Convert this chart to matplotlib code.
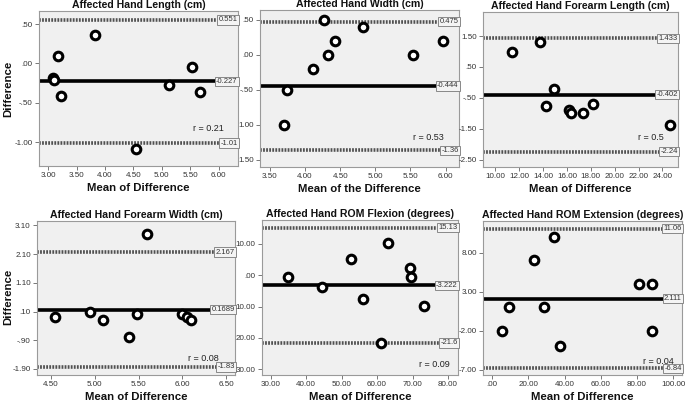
import matplotlib
matplotlib.use('Agg')
import matplotlib.pyplot as plt
import matplotlib.transforms as mtransforms

plt.rcParams['font.family'] = ['Liberation Sans', 'DejaVu Sans']
plt.rcParams['axes.unicode_minus'] = False

W, H = 685, 405

# ---------------- data ----------------
titles = ["Affected Hand Length (cm)", "Affected Hand Width (cm)",
          "Affected Hand Forearm Length (cm)", "Affected Hand Forearm Width (cm)",
          "Affected Hand ROM Flexion (degrees)", "Affected Hand ROM Extension (degrees)"]
xlabels = ["Mean of Difference", "Mean of the Difference", "Mean of Difference",
           "Mean of Difference", "Mean of Difference", "Mean of Difference"]
ylabel = "Difference"

p1_x = [3.08, 3.10, 3.17, 3.22, 3.82, 4.55, 5.13, 5.53, 5.68]
p1_y = [-0.18, -0.21, 0.10, -0.41, 0.36, -1.09, -0.27, -0.05, -0.36]
p2_x = [3.70, 3.75, 4.12, 4.27, 4.32, 4.42, 4.82, 5.54, 5.96]
p2_y = [-1.00, -0.50, -0.20, 0.50, 0.00, 0.20, 0.40, 0.00, 0.20]
p3_x = [11.4, 13.7, 14.2, 14.9, 16.2, 16.3, 17.3, 18.2, 24.6]
p3_y = [1.00, 1.30, -0.75, -0.20, -0.89, -1.00, -1.00, -0.69, -1.38]
p4_x = [4.55, 4.94, 5.09, 5.39, 5.48, 5.60, 5.99, 6.05, 6.10]
p4_y = [-0.10, 0.10, -0.19, -0.78, 0.02, 2.79, 0.00, -0.08, -0.19]
p5_x = [34.9, 44.4, 52.6, 56.1, 63.2, 69.2, 69.6, 61.2, 73.1]
p5_y = [-0.7, -3.6, 5.3, -7.7, 10.2, 2.2, -0.7, -21.6, -9.7]
p6_x = [5.7, 9.2, 23.2, 28.7, 34.3, 37.6, 81.0, 88.0, 88.4]
p6_y = [-2.0, 1.0, 7.0, 1.0, 10.0, -4.0, 4.0, 4.0, -2.0]

upper = [0.551, 0.475, 1.433, 2.167, 15.13, 11.06]
mean = [-0.227, -0.444, -0.402, 0.1689, -3.222, 2.111]
lower = [-1.01, -1.36, -2.24, -1.83, -21.6, -6.84]
upper_lbl = ["0.551", "0.475", "1.433", "2.167", "15.13", "11.06"]
mean_lbl = ["-0.227", "-0.444", "-0.402", "0.1689", "-3.222", "2.111"]
lower_lbl = ["-1.01", "-1.36", "-2.24", "-1.83", "-21.6", "-6.84"]
r_lbl = ["r = 0.21", "r = 0.53", "r = 0.5", "r = 0.08", "r = 0.09", "r = 0.04"]

yticks = [[0.5, 0.0, -0.5, -1.0], [0.5, 0.0, -0.5, -1.0, -1.5],
          [1.5, 0.5, -0.5, -1.5, -2.5], [3.1, 2.1, 1.1, 0.1, -0.9, -1.9],
          [10, 0, -10, -20, -30], [8, 3, -2, -7]]
ytick_lbl = [[".50", ".00", "-.50", "-1.00"], [".50", ".00", "-.50", "1.00", "1.50"],
             ["1.50", ".50", "-.50", "-1.50", "-2.50"],
             ["3.10", "2.10", "1.10", ".10", "-.90", "-1.90"],
             ["10.00", ".00", "10.00", "20.00", "30.00"],
             ["8.00", "3.00", "-2.00", "-7.00"]]
xticks = [[3.0, 3.5, 4.0, 4.5, 5.0, 5.5, 6.0], [3.5, 4.0, 4.5, 5.0, 5.5, 6.0],
          [10, 12, 14, 16, 18, 20, 22, 24], [4.5, 5.0, 5.5, 6.0, 6.5],
          [30, 40, 50, 60, 70, 80], [0, 20, 40, 60, 80, 100]]
xtick_lbl = [["3.00", "3.50", "4.00", "4.50", "5.00", "5.50", "6.00"],
             ["3.50", "4.00", "4.50", "5.00", "5.50", "6.00"],
             ["10.00", "12.00", "14.00", "16.00", "18.00", "20.00", "22.00", "24.00"],
             ["4.50", "5.00", "5.50", "6.00", "6.50"],
             ["30.00", "40.00", "50.00", "60.00", "70.00", "80.00"],
             [".00", "20.00", "40.00", "60.00", "80.00", "100.00"]]

xs = [p1_x, p2_x, p3_x, p4_x, p5_x, p6_x]
ys = [p1_y, p2_y, p3_y, p4_y, p5_y, p6_y]

# ---------------- layout ----------------
boxes = [(39, 238, 11, 166), (260, 459, 10, 167), (483, 678, 12, 167),
         (37, 235, 221, 375), (262, 458, 220, 375), (483, 682, 221, 375)]
xlims = [(2.84, 6.34), (3.36, 6.19), (8.96, 25.3), (4.34, 6.6), (27.6, 82.8), (-5, 104.8)]
ylims = [(-1.30, 0.665), (-1.60, 0.64), (-2.74, 2.28), (-2.11, 3.25), (-31.8, 17.6), (-7.7, 12.06)]
r_pos = [(0.85, 0.24), (0.845, 0.19), (0.86, 0.19), (0.84, 0.11), (0.88, 0.065), (0.88, 0.09)]
ylabel_pos = [(8, 89), (8, 297)]

fig = plt.figure(figsize=(W / 100, H / 100), dpi=100)
fig.patch.set_facecolor('white')

for i in range(6):
    l, r, t, b = boxes[i]
    ax = fig.add_axes([l / W, (H - b) / H, (r - l) / W, (b - t) / H])
    ax.set_facecolor('#f0f0f0')
    for s in ax.spines.values():
        s.set_color('#9a9a9a')
        s.set_linewidth(0.8)
    ax.set_xlim(*xlims[i])
    ax.set_ylim(*ylims[i])

    ax.axhline(upper[i], color='#505050', lw=2.6, ls=(0, (0.5, 0.35)), zorder=2)
    ax.axhline(lower[i], color='#505050', lw=2.6, ls=(0, (0.5, 0.35)), zorder=2)
    ax.axhline(mean[i], color='black', lw=2.6, zorder=2)

    trans = mtransforms.blended_transform_factory(ax.transAxes, ax.transData)
    for val, lab in zip([upper[i], mean[i], lower[i]], [upper_lbl[i], mean_lbl[i], lower_lbl[i]]):
        ax.text(0.998, val, lab, transform=trans, ha='right', va='center',
                fontsize=5.5, color='#333333', zorder=5, clip_on=False,
                bbox=dict(boxstyle='square,pad=0.15', fc='#f4f4f4', ec='#888888', lw=0.7))

    ax.plot(xs[i], ys[i], 'o', ms=6.2, mfc='white', mec='black', mew=2.2, zorder=4, ls='none')

    ax.text(r_pos[i][0], r_pos[i][1], r_lbl[i], transform=ax.transAxes,
            ha='center', va='center', fontsize=6.5, color='#222222')

    ax.set_xticks(xticks[i])
    ax.set_xticklabels(xtick_lbl[i])
    ax.set_yticks(yticks[i])
    ax.set_yticklabels(ytick_lbl[i])
    ax.tick_params(axis='both', labelsize=5.8, length=3, width=0.7, color='#777777',
                   labelcolor='#333333', pad=1.5)

    ax.set_title(titles[i], fontsize=7.6, fontweight='bold', pad=2, color='#111111')
    ax.set_xlabel(xlabels[i], fontsize=8.2, fontweight='bold', labelpad=3, color='#111111')

for (px, py) in ylabel_pos:
    fig.text(px / W, 1 - py / H, ylabel, rotation=90, ha='center', va='center',
             fontsize=8.2, fontweight='bold', color='#111111')

fig.savefig('out.png', dpi=100, facecolor='white')
